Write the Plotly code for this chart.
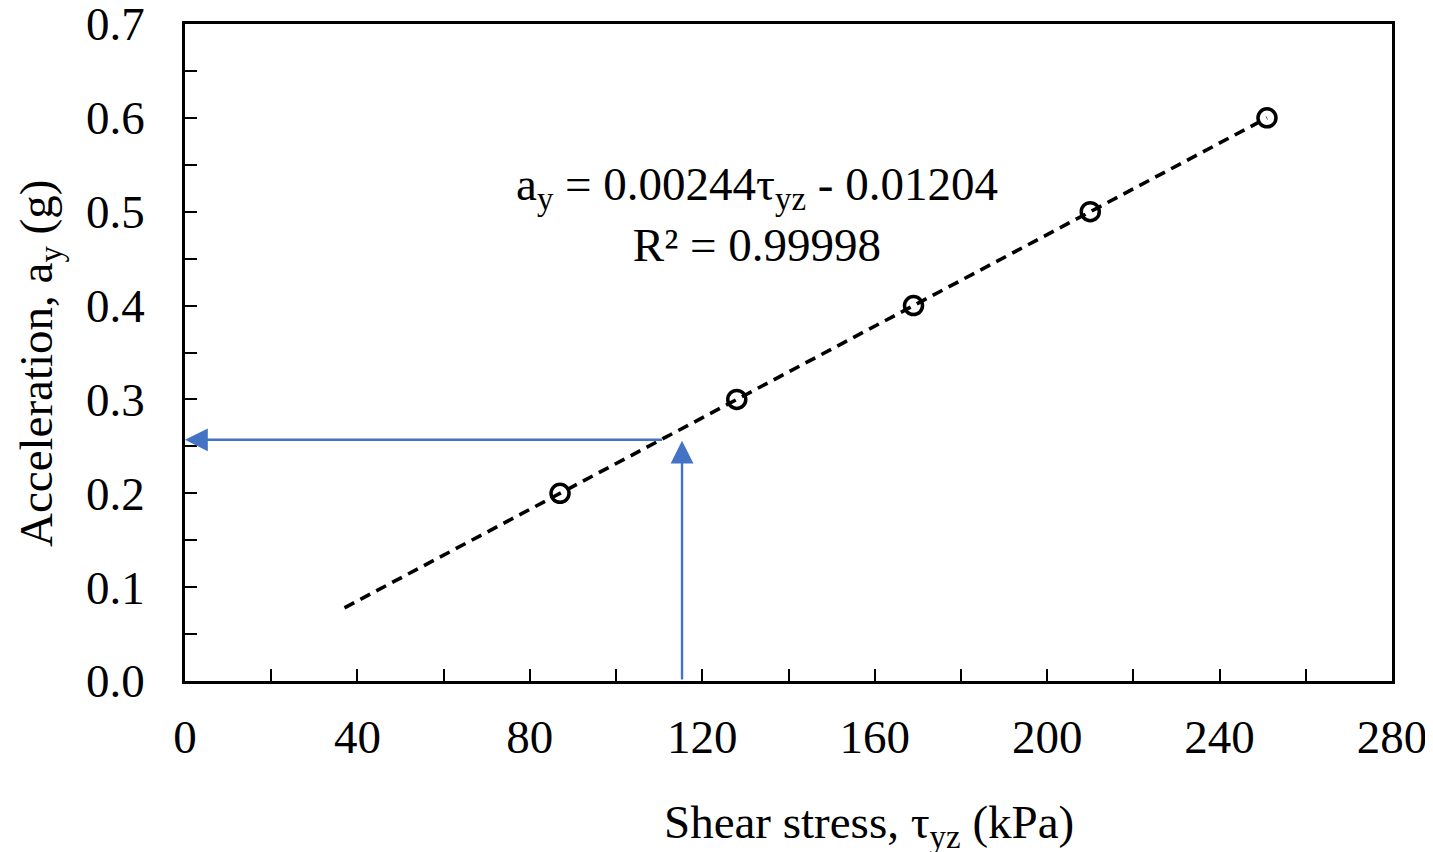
import plotly.graph_objects as go

# Data
shear_stress = [87, 128, 169, 210, 251]          # tau_yz (kPa)
acceleration = [0.2, 0.3, 0.4, 0.5, 0.6]         # a_y (g)
fit_x = [37, 251]
fit_y = [0.078, 0.600]
x_ticks = [0, 40, 80, 120, 160, 200, 240, 280]
y_ticks = [0.0, 0.1, 0.2, 0.3, 0.4, 0.5, 0.6, 0.7]
arrow_h = dict(x0=111, x1=0, y=0.257)
arrow_v = dict(x=115.3, y0=0, y1=0.256)

FONT = "Liberation Serif, Times New Roman, serif"
BLUE = "#4472C4"

fig = go.Figure()
fig.add_trace(go.Scatter(x=fit_x, y=fit_y, mode="lines",
                         line=dict(color="black", width=3.6, dash="11px,7px"),
                         showlegend=False, hoverinfo="skip"))
fig.add_trace(go.Scatter(x=shear_stress, y=acceleration, mode="markers",
                         marker=dict(symbol="circle-open", size=18, color="black",
                                     line=dict(width=3.5, color="black")),
                         showlegend=False))

# Arrows
for ann in (dict(x=arrow_h["x1"], y=arrow_h["y"], ax=arrow_h["x0"], ay=arrow_h["y"]),
            dict(x=arrow_v["x"], y=arrow_v["y1"], ax=arrow_v["x"], ay=arrow_v["y0"])):
    fig.add_annotation(**ann, xref="x", yref="y", axref="x", ayref="y", text="",
                       showarrow=True, arrowhead=2, arrowsize=1.9, arrowwidth=2.4,
                       arrowcolor=BLUE, standoff=0, startstandoff=0)

# Equation text
fig.add_annotation(x=132.7, y=0.4975, xref="x", yref="y", showarrow=False,
                   text="a<sub>y</sub> = 0.00244τ<sub>yz</sub> - 0.01204<br>R² = 0.99998",
                   font=dict(family=FONT, size=47, color="black"), align="center")

# Axis titles (placed as in the reference, x title sits right of centre)
fig.add_annotation(x=0.5667, y=-0.2207, xref="paper", yref="paper", showarrow=False,
                   xanchor="center", yanchor="middle",
                   text="Shear stress, τ<sub>yz</sub> (kPa)",
                   font=dict(family=FONT, size=47, color="black"))
fig.add_annotation(x=-0.1201, y=0.4825, xref="paper", yref="paper", showarrow=False,
                   xanchor="center", yanchor="middle", textangle=-90,
                   text="Acceleration, a<sub>y</sub> (g)",
                   font=dict(family=FONT, size=47, color="black"))

axis_common = dict(showgrid=False, zeroline=False, showline=True, linecolor="black",
                   linewidth=2.8, mirror=True, ticks="inside", ticklen=12,
                   tickwidth=2.4, tickcolor="black", automargin=False,
                   ticklabeloverflow="allow",
                   tickfont=dict(family=FONT, size=47, color="black"))

fig.update_xaxes(range=[0, 280], tickvals=x_ticks, ticktext=[str(v) for v in x_ticks],
                 minor=dict(dtick=20, tick0=0, ticks="inside", ticklen=12,
                            tickwidth=2.4, tickcolor="black"),
                 ticklabelstandoff=13, **axis_common)
fig.update_yaxes(range=[0, 0.7], tickvals=y_ticks, ticktext=[f"{v:.1f}" for v in y_ticks],
                 minor=dict(dtick=0.05, tick0=0, ticks="inside", ticklen=12,
                            tickwidth=2.4, tickcolor="black"),
                 ticklabelstandoff=28, **axis_common)

fig.update_layout(width=1433, height=852, plot_bgcolor="white", paper_bgcolor="white",
                  margin=dict(l=177, r=49, t=16, b=179), showlegend=False)

fig.write_html("out.html")
